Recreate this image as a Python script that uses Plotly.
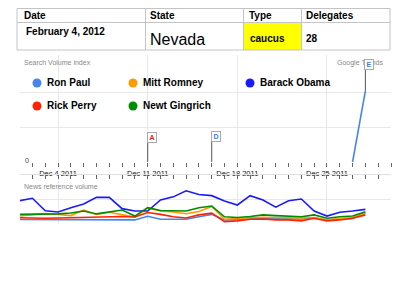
import plotly.graph_objects as go

W, H = 400, 300
def px(x): return x / W
def py(y): return 1 - y / H

FONT = "Liberation Sans, Arial, sans-serif"

# ---------------- data ----------------
table_headers = ["Date", "State", "Type", "Delegates"]
table_row = ["February 4, 2012", "Nevada", "caucus", "28"]

days = ["2011-12-%02d" % d for d in range(1, 29)]

series_names = ["Ron Paul", "Mitt Romney", "Barack Obama", "Rick Perry", "Newt Gingrich"]
series_colors = ["#4684ee", "#ff9900", "#1a1aff", "#ff2200", "#008c00"]

search_ron_paul = [None, None, None, None, None, None, None, None, None, None,
                   None, None, None, None, None, None, None, None, None, None,
                   None, None, None, None, None, None, 0, 2.06]

news_ron_paul = [0.19, 0.19, 0.19, 0.20, 0.20, 0.19, 0.18, 0.17, 0.17, 0.17, 0.32, 0.20, 0.20, 0.20,
                 0.30, 0.40, 0.17, 0.20, 0.23, 0.23, 0.22, 0.22, 0.21, 0.25, 0.17, 0.21, 0.23, 0.46]
news_romney = [0.33, 0.38, 0.43, 0.40, 0.35, 0.58, 0.40, 0.49, 0.40, 0.29, 0.67, 0.54, 0.50, 0.43,
               0.52, 0.73, 0.20, 0.24, 0.26, 0.28, 0.27, 0.25, 0.25, 0.27, 0.17, 0.23, 0.27, 0.46]
news_obama = [0.97, 1.07, 0.55, 0.50, 0.68, 0.83, 1.11, 1.11, 0.64, 0.54, 0.54, 1.00, 1.13, 1.38,
              1.23, 1.18, 0.96, 0.79, 1.18, 1.00, 0.70, 0.97, 1.04, 0.54, 0.33, 0.49, 0.54, 0.61]
news_perry = [0.26, 0.24, 0.24, 0.25, 0.26, 0.29, 0.30, 0.30, 0.31, 0.29, 0.48, 0.40, 0.30, 0.25,
              0.38, 0.45, 0.10, 0.13, 0.20, 0.21, 0.17, 0.17, 0.13, 0.24, 0.13, 0.17, 0.24, 0.38]
news_gingrich = [0.40, 0.40, 0.42, 0.42, 0.46, 0.54, 0.42, 0.50, 0.58, 0.33, 0.68, 0.56, 0.54, 0.54,
                 0.68, 0.75, 0.30, 0.27, 0.31, 0.38, 0.35, 0.33, 0.30, 0.38, 0.24, 0.30, 0.33, 0.51]

flag_letters = ["A", "D", "E"]
flag_dates = ["2011-12-11", "2011-12-16", "2011-12-28"]
flag_heights = [0.55, 0.58, 2.67]
flag_colors = ["#e02020", "#3d7de0", "#3d7de0"]

# ---------------- figure ----------------
fig = go.Figure()

fig.add_trace(go.Scatter(x=days, y=search_ron_paul, mode="lines", xaxis="x", yaxis="y",
                         line=dict(color=series_colors[0], width=1.6), showlegend=False,
                         name=series_names[0], connectgaps=False))

news = [news_ron_paul, news_romney, news_obama, news_perry, news_gingrich]
for name, col, vals in zip(series_names, series_colors, news):
    fig.add_trace(go.Scatter(x=days, y=vals, mode="lines", xaxis="x2", yaxis="y2",
                             line=dict(color=col, width=1.6), showlegend=False, name=name))

shapes = []
annotations = []

# ---- table ----
col_edges = [17, 145.5, 243.5, 301.5, 390]
row_edges = [8.5, 22.5, 50]
border = "#c4c4c4"
shapes.append(dict(type="rect", xref="paper", yref="paper", x0=px(col_edges[2]), x1=px(col_edges[3]),
                   y0=py(row_edges[2]), y1=py(row_edges[1]), fillcolor="#ffff00", line=dict(width=0),
                   layer="below"))
shapes.append(dict(type="rect", xref="paper", yref="paper", x0=px(col_edges[0]), x1=px(col_edges[-1]),
                   y0=py(row_edges[2]), y1=py(row_edges[0]), line=dict(color=border, width=1)))
shapes.append(dict(type="line", xref="paper", yref="paper", x0=px(col_edges[0]), x1=px(col_edges[-1]),
                   y0=py(row_edges[1]), y1=py(row_edges[1]), line=dict(color=border, width=1)))
for xe in col_edges[1:-1]:
    shapes.append(dict(type="line", xref="paper", yref="paper", x0=px(xe), x1=px(xe),
                       y0=py(row_edges[2]), y1=py(row_edges[0]), line=dict(color=border, width=1)))

header_x = [22, 148, 247, 304]
for t, x in zip(table_headers, header_x):
    annotations.append(dict(text="<b>%s</b>" % t, x=px(x), y=py(15.5), xref="paper", yref="paper",
                            xanchor="left", yanchor="middle", showarrow=False,
                            font=dict(family=FONT, size=10, color="#000")))
row_x = [24, 148, 248, 304]
row_y = [31.5, 39, 38, 38]
row_size = [10, 16, 10, 10]
row_bold = [True, False, True, True]
for t, x, y, s, b in zip(table_row, row_x, row_y, row_size, row_bold):
    annotations.append(dict(text=("<b>%s</b>" % t) if b else t, x=px(x), y=py(y), xref="paper", yref="paper",
                            xanchor="left", yanchor="middle", showarrow=False,
                            font=dict(family=FONT, size=s, color="#000")))

# ---- trends captions ----
annotations.append(dict(text="Search Volume index", x=px(22), y=py(62.5), xref="paper", yref="paper",
                        xanchor="left", yanchor="middle", showarrow=False,
                        font=dict(family=FONT, size=7, color="#888")))
annotations.append(dict(text="Google Trends", x=px(385), y=py(62.5), xref="paper", yref="paper",
                        xanchor="right", yanchor="middle", showarrow=False,
                        font=dict(family=FONT, size=7, color="#888")))
annotations.append(dict(text="News reference volume", x=px(22), y=py(186), xref="paper", yref="paper",
                        xanchor="left", yanchor="middle", showarrow=False,
                        font=dict(family=FONT, size=7, color="#888")))
# zero label of the search axis
annotations.append(dict(text="0", x=px(23), y=0, xref="paper", yref="y",
                        xanchor="left", yanchor="middle", yshift=2, showarrow=False,
                        font=dict(family=FONT, size=7, color="#444")))

# ---- custom legend ----
legend_pos = [(37, 83), (133, 83), (250, 83), (37, 106), (133, 106)]
for name, col, (lx, ly) in zip(series_names, series_colors, legend_pos):
    r = 4.5
    shapes.append(dict(type="circle", xref="paper", yref="paper", x0=px(lx - r), x1=px(lx + r),
                       y0=py(ly + r), y1=py(ly - r), fillcolor=col, line=dict(width=0)))
    annotations.append(dict(text="<b>%s</b>" % name, x=px(lx + 8), y=py(ly), xref="paper", yref="paper",
                            xanchor="left", yanchor="middle", showarrow=False,
                            font=dict(family=FONT, size=10, color="#000")))

# ---- flags ----
for letter, d, h, c in zip(flag_letters, flag_dates, flag_heights, flag_colors):
    base = search_ron_paul[days.index(d)]
    base = 0 if base is None else base
    shapes.append(dict(type="line", xref="x", yref="y", x0=d, x1=d, y0=base, y1=h,
                       line=dict(color="#555", width=1)))
    annotations.append(dict(text="<b>%s</b>" % letter, x=d, y=h, xref="x", yref="y",
                            xanchor="left", yanchor="bottom", showarrow=False, xshift=-1,
                            width=8, height=9, borderpad=0, bgcolor="#fff",
                            bordercolor="#aaa", borderwidth=1,
                            font=dict(family=FONT, size=7, color=c)))

xdom = [px(20), px(391)]
xrange = ["2011-12-01 00:40", "2011-12-30 00:00"]
DAY = 86400000

fig.update_layout(
    width=W, height=H, margin=dict(l=0, r=0, t=0, b=0),
    paper_bgcolor="#fff", plot_bgcolor="#fff",
    font=dict(family=FONT),
    shapes=shapes, annotations=annotations,
    xaxis=dict(domain=xdom, anchor="y", type="date", range=xrange,
               tick0="2011-12-04", dtick=7 * DAY, tickformat="%b %-d %Y",
               tickfont=dict(family=FONT, size=7.5, color="#111"),
               ticks="outside", ticklen=4, tickcolor="#666", tickwidth=1,
               showgrid=True, gridcolor="#e8e8e8", gridwidth=1, showline=False, zeroline=False,
               minor=dict(dtick=DAY, tick0="2011-12-04", ticks="outside", ticklen=4,
                          tickcolor="#666", showgrid=False),
               fixedrange=True),
    yaxis=dict(domain=[py(162), py(55)], anchor="x", range=[0, 3.1],
               tickvals=[0, 1, 2], showticklabels=False, ticks="",
               showgrid=True, gridcolor="#e8e8e8", zeroline=False, showline=False,
               fixedrange=True),
    xaxis2=dict(domain=xdom, anchor="y2", type="date", range=xrange, side="top",
                tick0="2011-12-04", dtick=7 * DAY, showticklabels=False,
                ticks="inside", ticklen=4, tickcolor="#666",
                showgrid=True, gridcolor="#e8e8e8", showline=True, linecolor="#e0e0e0",
                zeroline=False,
                minor=dict(dtick=DAY, tick0="2011-12-04", ticks="inside", ticklen=4,
                           tickcolor="#666", showgrid=False),
                fixedrange=True),
    yaxis2=dict(domain=[py(224), py(175)], anchor="x2", range=[0, 2.04],
                tickvals=[1], showticklabels=False, ticks="",
                showgrid=True, gridcolor="#e8e8e8", zeroline=False, showline=False,
                fixedrange=True),
    showlegend=False,
)

fig.write_html("out.html", config={"displayModeBar": False})
